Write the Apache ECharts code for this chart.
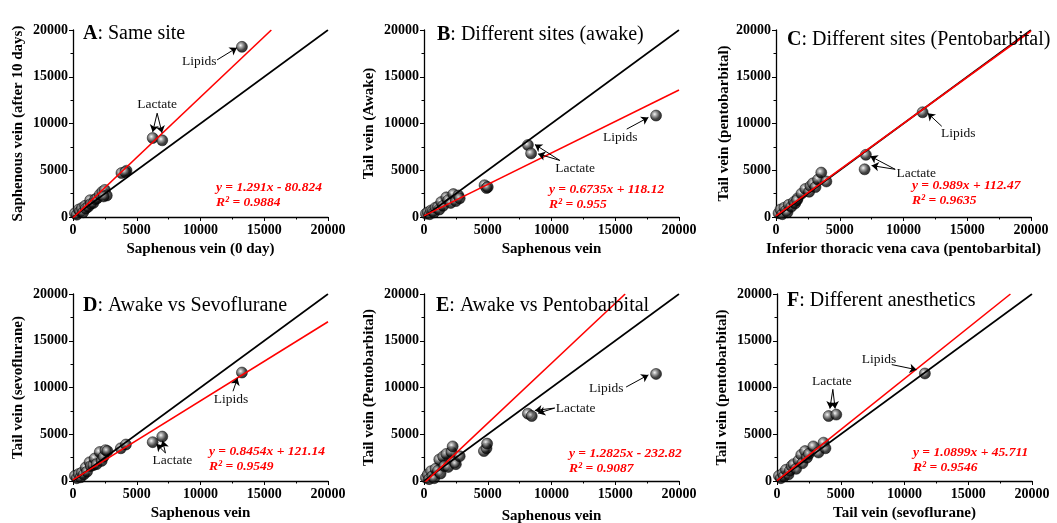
<!DOCTYPE html>
<html>
<head>
<meta charset="utf-8">
<script src="https://cdn.jsdelivr.net/npm/echarts@6/dist/echarts.min.js"></script>
<style>
  html, body { margin: 0; padding: 0; background: #fff; }
  #chart { width: 1057px; height: 523px; }
</style>
</head>
<body>
<div id="chart"></div>
<script>
// panel letters + titles
const panelLetters = ['A', 'B', 'C', 'D', 'E', 'F'];
const panelTitles = ['Same site', 'Different sites (awake)', 'Different sites (Pentobarbital)',
  'Awake vs Sevoflurane', 'Awake vs Pentobarbital', 'Different anesthetics'];
const xNames = ['Saphenous vein (0 day)', 'Saphenous vein', 'Inferior thoracic vena cava (pentobarbital)',
  'Saphenous vein', 'Saphenous vein', 'Tail vein (sevoflurane)'];
const yNames = ['Saphenous vein (after 10 days)', 'Tail vein (Awake)', 'Tail vein (pentobarbital)',
  'Tail vein (sevoflurane)', 'Tail vein (Pentobarbital)', 'Tail vein (pentobarbital)'];
const axisTicks = [0, 5000, 10000, 15000, 20000];

// scatter points [x, y]
const ptsA = [[150,400],[300,250],[450,800],[550,600],[700,950],[800,500],[950,1200],[1000,900],[1200,1100],
  [1350,1800],[1400,1400],[1600,1500],[1750,1900],[1900,2000],[2100,2400],[2300,2700],[2500,2900],[2650,2300],
  [2400,2200],[3800,4700],[4200,4950],[4100,4800],[6250,8450],[7000,8200],[13250,18200]];
const ptsB = [[150,350],[300,500],[450,300],[550,700],[700,650],[800,500],[900,1000],[1100,1100],[1200,800],
  [1350,1600],[1500,1200],[1750,2100],[1900,1800],[2100,1500],[2300,2450],[2500,1700],[2700,2300],[2800,2000],
  [4750,3400],[4900,3100],[5000,3200],[8150,7700],[8400,6800],[18200,10850]];
const ptsC = [[200,400],[350,800],[500,300],[650,1000],[800,700],[900,500],[1000,1300],[1200,1100],[1400,1600],
  [1500,1450],[1700,2000],[1650,1800],[2000,2500],[2300,3000],[2600,2700],[2700,3300],[2900,3600],[3100,3200],
  [3300,4000],[3550,4750],[3950,3800],[6950,5100],[7050,6650],[11500,11200]];
const ptsD = [[150,550],[300,300],[450,750],[600,400],[700,900],[850,700],[1000,1450],[1100,1000],[1300,2000],
  [1400,1600],[1600,1700],[1700,2400],[1850,1800],[2100,3100],[2250,2150],[2400,2600],[2550,3300],[2700,3200],
  [3750,3500],[4150,3900],[6250,4150],[7000,4750],[13250,11600]];
const ptsE = [[150,350],[300,700],[400,200],[550,1050],[650,500],[800,300],[900,1300],[1100,1100],[1200,2300],
  [1300,800],[1500,2600],[1600,1600],[1750,2900],[1900,1500],[2150,3100],[2250,3700],[2400,2000],[2500,1800],
  [2800,2650],[4700,3200],[4900,3500],[4950,4000],[8150,7200],[8450,6950],[18200,11450]];
const ptsF = [[150,550],[300,300],[450,800],[550,500],[700,1200],[900,700],[1000,1100],[1150,1600],[1300,1800],
  [1500,1300],[1700,2200],[1900,2800],[2000,1900],[2200,3200],[2350,2500],[2500,2900],[2850,3700],[3250,3050],
  [3650,4100],[3800,3500],[4050,6950],[4650,7100],[11600,11500]];
const allPts = [ptsA, ptsB, ptsC, ptsD, ptsE, ptsF];

// regression lines (from printed equations)
const slopes = [1.291, 0.6735, 0.989, 0.8454, 1.2825, 1.0899];
const intercepts = [-80.824, 118.12, 112.47, 121.14, -232.82, 45.711];
const eqTexts = ['y = 1.291x - 80.824', 'y = 0.6735x + 118.12', 'y = 0.989x + 112.47',
  'y = 0.8454x + 121.14', 'y = 1.2825x - 232.82', 'y = 1.0899x + 45.711'];
const r2Texts = ['R² = 0.9884', 'R² = 0.955', 'R² = 0.9635', 'R² = 0.9549', 'R² = 0.9087', 'R² = 0.9546'];

// annotation label positions (data coords) and arrows [from, to]
const lipidLabel = [[9900,16600],[15400,8500],[14300,8900],[12400,8700],[14300,9900],[8000,13050]];
const lipidArrows = [
  [[[11300,16800],[12850,18100]]],
  [[[15900,9400],[17600,10650]]],
  [[[13000,9700],[11900,11100]]],
  [[[12550,9600],[12900,11000]]],
  [[[15850,10050],[17600,11350]]],
  [[[9000,12450],[10950,11900]]]
];
const lactLabel = [[6600,12000],[11850,5200],[11000,4650],[7800,2150],[11900,7750],[4300,10700]];
const lactArrows = [
  [[[6600,11100],[6250,9100]], [[6600,11100],[6980,9000]]],
  [[[10650,6050],[8700,7750]], [[10650,6050],[8950,6750]]],
  [[[9350,5100],[7400,6500]], [[9350,5100],[7500,5500]]],
  [[[7250,3000],[6550,3950]], [[7250,3000],[7030,4300]]],
  [[[10250,7800],[8700,7550]], [[10250,7800],[8950,7250]]],
  [[[4380,9800],[4150,7750]], [[4380,9800],[4560,7750]]]
];

// layout (pixels)
const gridLeft = [73, 424, 776, 73, 424, 777];
const gridTop = [30, 30, 30, 294, 294, 294];
const titlePos = [[83,24],[437,25],[787,30],[83,296],[436,296],[787,291]];
const eqPos = [[216,180],[549,182],[912,178],[209,444],[569,446],[913,445]];
const yNameGap = [47, 47, 41, 47, 47, 47];
const xNameGap = [25, 25, 25, 25, 28, 25];

const serif = '"Liberation Serif", "Times New Roman", serif';
const sphere = {
  type: 'radial', x: 0.38, y: 0.38, r: 0.62,
  colorStops: [
    { offset: 0, color: '#f4f4f4' },
    { offset: 0.3, color: '#8a8a8a' },
    { offset: 0.7, color: '#151515' },
    { offset: 1, color: '#000' }
  ]
};

const grids = [], xAxes = [], yAxes = [], series = [], titles = [];

for (let i = 0; i < 6; i++) {
  grids.push({ left: gridLeft[i], top: gridTop[i], width: 255, height: 187, outerBoundsMode: 'none' });
  const axisCommon = {
    gridIndex: i, type: 'value', min: axisTicks[0], max: axisTicks[axisTicks.length - 1], interval: 5000,
    splitLine: { show: false },
    axisLine: { show: true, onZero: false, lineStyle: { color: '#000', width: 1.3 } },
    axisTick: { show: true, inside: false, length: 4, lineStyle: { color: '#000', width: 1 } },
    minorTick: { show: true, splitNumber: 2, length: 2.5, lineStyle: { color: '#000' } },
    axisLabel: { color: '#000', fontFamily: serif, fontWeight: 'bold', fontSize: 14, formatter: v => String(v) },
    nameLocation: 'middle',
    nameTextStyle: { color: '#000', fontFamily: serif, fontWeight: 'bold', fontSize: 15 }
  };
  xAxes.push(Object.assign({}, axisCommon, {
    name: xNames[i], nameGap: xNameGap[i],
    axisLabel: Object.assign({}, axisCommon.axisLabel, { margin: 6 })
  }));
  yAxes.push(Object.assign({}, axisCommon, {
    name: yNames[i], nameGap: yNameGap[i],
    axisLabel: Object.assign({}, axisCommon.axisLabel, { margin: 5 })
  }));

  // identity line
  series.push({
    type: 'line', xAxisIndex: i, yAxisIndex: i, data: [[axisTicks[0], axisTicks[0]], [axisTicks[4], axisTicks[4]]],
    showSymbol: false, silent: true, lineStyle: { color: '#000', width: 1.6 }, z: 3
  });
  // fit line
  const a = slopes[i], b = intercepts[i];
  const xEnd = Math.min(axisTicks[4], (axisTicks[4] - b) / a);
  series.push({
    type: 'line', xAxisIndex: i, yAxisIndex: i, data: [[0, b], [xEnd, a * xEnd + b]],
    showSymbol: false, silent: true, clip: true, lineStyle: { color: '#f00', width: 1.6 }, z: 4
  });

  const arrows = lipidArrows[i].concat(lactArrows[i]).map(p => [{ coord: p[0] }, { coord: p[1] }]);
  series.push({
    type: 'scatter', xAxisIndex: i, yAxisIndex: i, data: allPts[i], symbolSize: 11, z: 2,
    itemStyle: { color: sphere, borderColor: '#000', borderWidth: 0.6 },
    markLine: {
      silent: true, symbol: ['none', 'arrow'], symbolSize: 7, animation: false,
      lineStyle: { color: '#000', width: 1, type: 'solid' }, label: { show: false },
      data: arrows
    },
    markPoint: {
      silent: true, symbol: 'circle', symbolSize: 1, itemStyle: { color: 'rgba(0,0,0,0)' },
      label: { show: true, position: 'inside', formatter: p => p.name, color: '#111', fontFamily: serif, fontSize: 13.5 },
      data: [
        { name: 'Lipids', coord: lipidLabel[i] },
        { name: 'Lactate', coord: lactLabel[i] }
      ]
    }
  });

  titles.push({
    text: '{b|' + panelLetters[i] + '}: ' + panelTitles[i], left: titlePos[i][0], top: titlePos[i][1], padding: 0,
    textStyle: {
      color: '#000', fontFamily: serif, fontWeight: 'normal', fontSize: 20,
      rich: { b: { fontWeight: 'bold', fontFamily: serif, fontSize: 20, color: '#000' } }
    }
  });
  titles.push({
    text: eqTexts[i] + '\n' + r2Texts[i], left: eqPos[i][0], top: eqPos[i][1], padding: 0,
    textStyle: { color: '#f00', fontFamily: serif, fontWeight: 'bold', fontStyle: 'italic', fontSize: 13.5, lineHeight: 15 }
  });
}

const chart = echarts.init(document.getElementById('chart'), null, { renderer: 'canvas' });
chart.setOption({
  animation: false,
  backgroundColor: '#fff',
  title: titles,
  grid: grids,
  xAxis: xAxes,
  yAxis: yAxes,
  series: series
});
</script>
</body>
</html>
